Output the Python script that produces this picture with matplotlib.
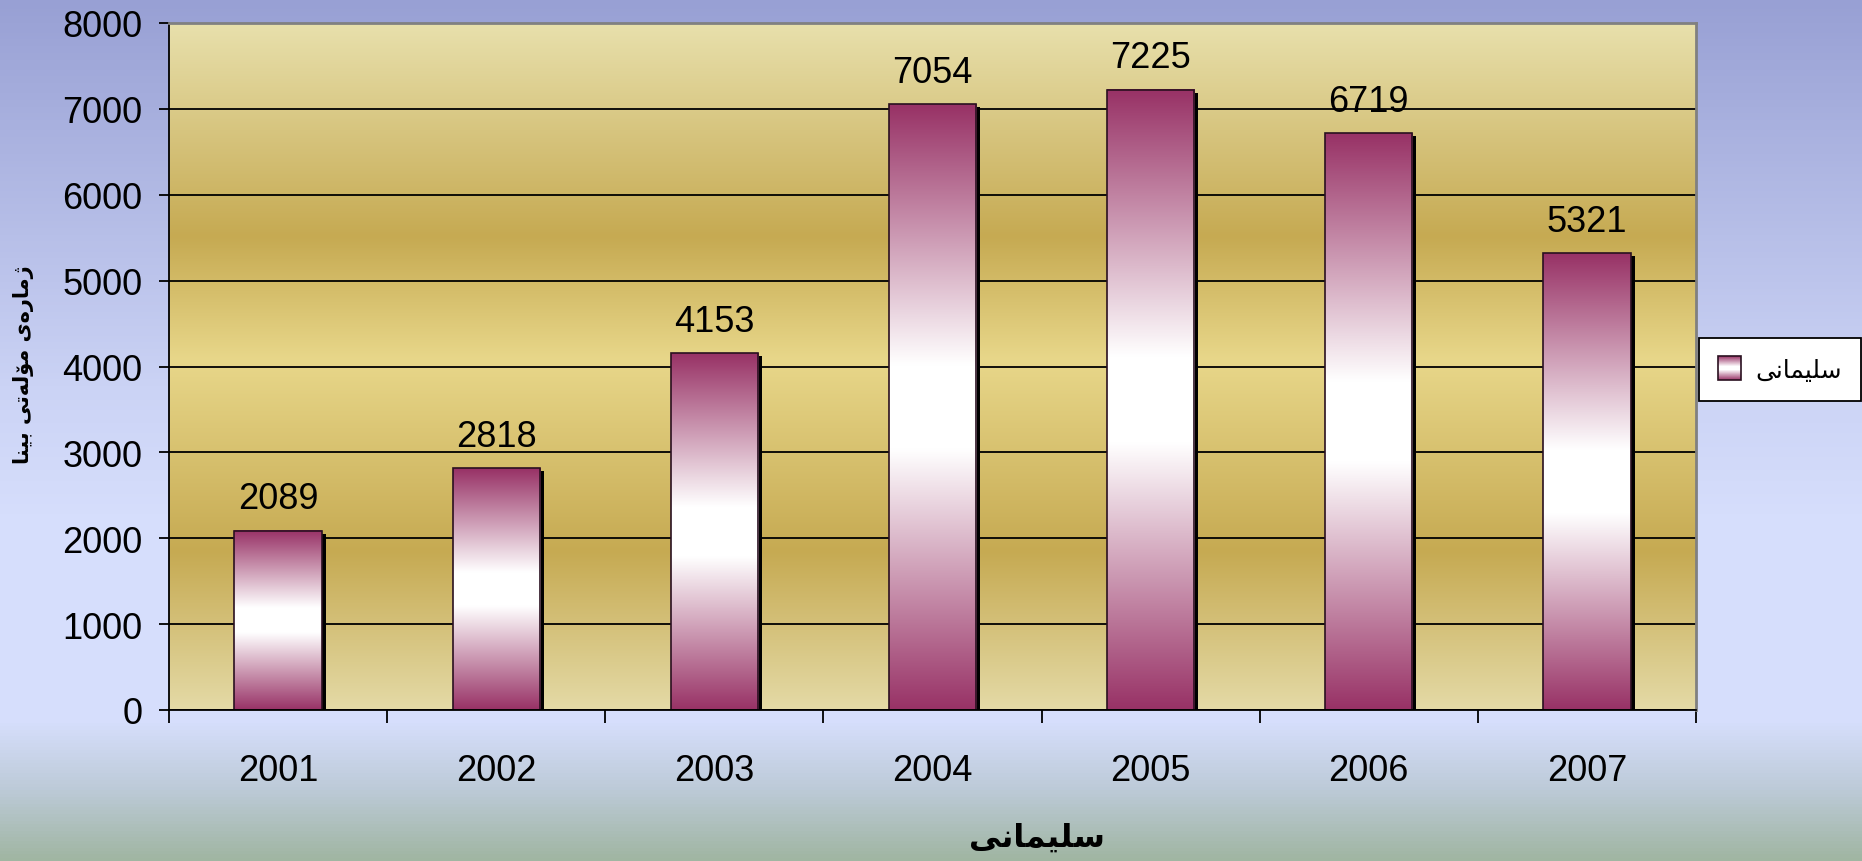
import numpy as np
import matplotlib
matplotlib.use('Agg')
import matplotlib.pyplot as plt
from matplotlib.colors import LinearSegmentedColormap
from matplotlib.patches import Rectangle
from matplotlib.legend_handler import HandlerBase
from matplotlib.transforms import ScaledTranslation

plt.rcParams['font.family'] = ['Liberation Sans', 'DejaVu Sans']

years = ['2001', '2002', '2003', '2004', '2005', '2006', '2007']
permits = [2089, 2818, 4153, 7054, 7225, 6719, 5321]

# Kurdish text as presentation forms, reversed -> matplotlib does no arabic shaping
city = ''.join(['\uFEB3', '\uFEE0', '\uFEF4', '\uFEE4', '\uFE8E', '\uFEE7', '\uFEF0'])[::-1]
w1 = ['\uFB8A', '\uFEE3', '\uFE8E', '\uFEAD', '\u06D5', '\uFEEF']          # ژمارەی
w2 = ['\uFEE3', '\uFBDA', '\uFEDF', '\uFEEA', '\uFE97', '\uFEF0']          # مۆڵەتی
w3 = ['\uFE91', '\uFEF4', '\uFEE8', '\uFE8E']                              # بینا
ylab = ' '.join(''.join(w) for w in [w1, w2, w3])[::-1]

maroon = (152/255, 50/255, 102/255)
bar_cmap = LinearSegmentedColormap.from_list('bar', [(0, maroon), (0.43, 'white'), (0.57, 'white'), (1, maroon)])
plot_cmap = LinearSegmentedColormap.from_list('plotbg', [
    (0, (228/255, 218/255, 166/255)), (0.23, (198/255, 170/255, 82/255)),
    (0.51, (232/255, 215/255, 138/255)), (0.69, (198/255, 170/255, 82/255)),
    (1, (232/255, 224/255, 172/255))])
fig_cmap = LinearSegmentedColormap.from_list('figbg', [
    (0, (152/255, 160/255, 212/255)), (0.45, (203/255, 211/255, 245/255)),
    (0.6, (214/255, 222/255, 252/255)), (0.84, (214/255, 222/255, 252/255)),
    (0.92, (188/255, 202/255, 215/255)), (1, (160/255, 182/255, 162/255))])

grad = np.linspace(0, 1, 256).reshape(-1, 1)

fig = plt.figure(figsize=(18.62, 8.62), dpi=100)
bg = fig.add_axes([0, 0, 1, 1], zorder=-10)
bg.imshow(grad, cmap=fig_cmap, aspect='auto', extent=[0, 1, 0, 1], origin='upper')
bg.axis('off')

ax = fig.add_axes([169/1862, 151/862, 1527/1862, 687/862])
ax.patch.set_visible(False)
ax.imshow(grad, cmap=plot_cmap, aspect='auto', extent=[0, 1, 0, 1], origin='lower',
          transform=ax.transAxes, zorder=0.1)

x = np.arange(len(years))
bw = 0.4

# shadow
sh = ax.bar(x, permits, width=bw, color='black', zorder=1.9)
for p in sh:
    p.set_transform(ax.transData + ScaledTranslation(4/100, -3/100, fig.dpi_scale_trans))

for xi, v in zip(x, permits):
    ax.imshow(grad, cmap=bar_cmap, aspect='auto', extent=[xi - bw/2, xi + bw/2, 0, v],
              origin='lower', zorder=2.0)
ax.bar(x, permits, width=bw, color='none', edgecolor='#2a1020', linewidth=1.2, zorder=2.2)

for xi, v in zip(x, permits):
    ax.annotate(str(v), (xi, v), xytext=(0, 16), textcoords='offset points',
                ha='center', va='baseline', fontsize=26)

ax.set_xlim(-0.5, len(years) - 0.5)
ax.set_ylim(0, 8000)
ax.set_axisbelow(True)
ax.yaxis.grid(True, color='black', linewidth=1.3)

ax.set_xticks(np.arange(-0.5, len(years), 1))
ax.set_xticks(x, years, minor=True)
ax.tick_params(axis='x', which='major', length=9, width=1.3, labelbottom=False)
ax.tick_params(axis='x', which='minor', length=0, pad=31, labelsize=26)
ax.set_yticks(range(0, 8001, 1000))
ax.tick_params(axis='y', length=7, width=1.3, pad=12, labelsize=26)

for s in ['left', 'bottom']:
    ax.spines[s].set_linewidth(1.3)
    ax.spines[s].set_color('black')
for s in ['top', 'right']:
    ax.spines[s].set_linewidth(2)
    ax.spines[s].set_color('#808080')

fig.text(24/1862, 1 - 365/862, ylab, rotation=90, ha='center', va='center',
         fontsize=15, fontweight='bold', family=['DejaVu Sans'])
fig.text(1037/1862, 1 - 838/862, city, ha='center', va='center',
         fontsize=23, fontweight='bold', family=['DejaVu Sans'])


class GradHandler(HandlerBase):
    def create_artists(self, legend, orig_handle, xdescent, ydescent, width, height, fontsize, trans):
        arts = []
        n = 24
        for i in range(n):
            arts.append(Rectangle((-xdescent, -ydescent + i*height/n), width, height/n,
                                  facecolor=bar_cmap((i + 0.5)/n), edgecolor='none', transform=trans))
        arts.append(Rectangle((-xdescent, -ydescent), width, height, facecolor='none',
                              edgecolor='#2a1020', linewidth=1.2, transform=trans))
        return arts


proxy = Rectangle((0, 0), 1, 1)
leg = ax.legend([proxy], [city], handler_map={proxy: GradHandler()},
                loc='center', bbox_to_anchor=(1780/1862, 1 - 370/862), bbox_transform=fig.transFigure,
                fancybox=False, edgecolor='black', framealpha=1, prop={'family': 'DejaVu Sans', 'size': 18},
                handlelength=0.9, handleheight=1.1, handletextpad=0.6, borderpad=0.75)
leg.get_frame().set_linewidth(1.3)

fig.savefig('out.png', dpi=100)
